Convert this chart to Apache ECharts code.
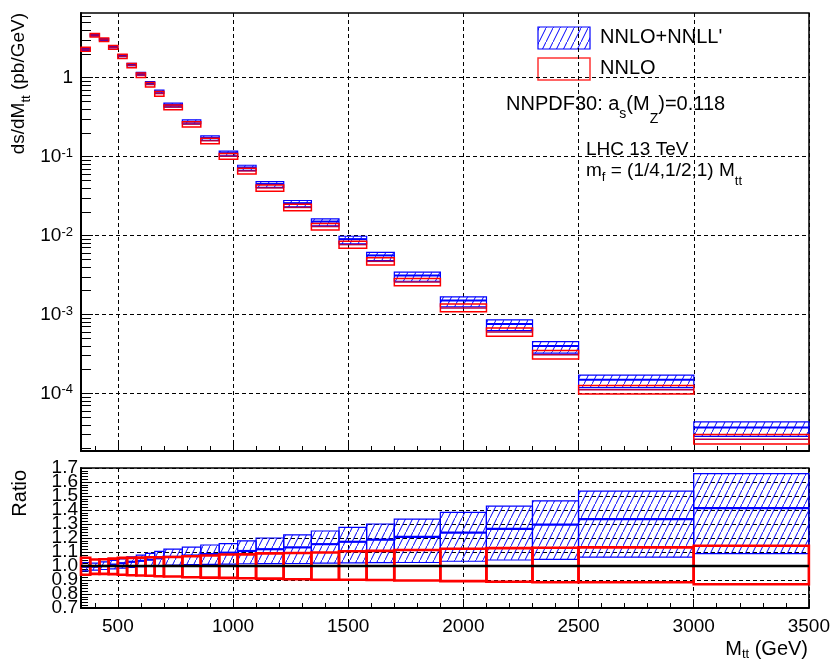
<!DOCTYPE html>
<html>
<head>
<meta charset="utf-8">
<script src="https://cdn.jsdelivr.net/npm/echarts@6/dist/echarts.min.js"></script>
<style>
  html, body { margin: 0; padding: 0; background: #fff; }
  #chart { width: 833px; height: 662px; }
</style>
</head>
<body>
<div id="chart"></div>
<script>
// Invariant-mass bins of the top-pair system (GeV)
const binEdges = [340, 380, 420, 460, 500, 540, 580, 620, 660, 700, 780, 860, 940, 1020, 1100,
                  1220, 1340, 1460, 1580, 1700, 1900, 2100, 2300, 2500, 3000, 3500];

// NNLO central differential cross section, pb/GeV
const nnloXsec = [2.30, 3.47, 3.04, 2.43, 1.87, 1.43, 1.08, 0.819, 0.629, 0.424, 0.258, 0.159, 0.101,
                  0.0658, 0.0401, 0.0227, 0.0130, 0.00767, 0.00471, 0.00257, 0.00121, 0.000597,
                  0.000308, 0.000111, 0.0000262];

// Scale bands and central values, normalised to the NNLO central value
const ratioResumUp = [1.025, 1.02, 1.03, 1.04, 1.05, 1.065, 1.078, 1.09, 1.105, 1.12, 1.135, 1.15, 1.16,
                      1.18, 1.20, 1.223, 1.25, 1.276, 1.30, 1.335, 1.383, 1.427, 1.465, 1.535, 1.66];
const ratioResumCentral = [0.995, 0.995, 1.0, 1.01, 1.02, 1.03, 1.037, 1.045, 1.055, 1.065, 1.075, 1.085, 1.095,
                           1.107, 1.12, 1.133, 1.156, 1.173, 1.188, 1.208, 1.239, 1.265, 1.295, 1.335, 1.414];
const ratioResumDown = [0.965, 0.97, 0.975, 0.98, 0.985, 0.99, 0.995, 1.0, 1.003, 1.006, 1.01, 1.012, 1.014,
                        1.016, 1.017, 1.018, 1.02, 1.022, 1.024, 1.025, 1.034, 1.043, 1.047, 1.063, 1.089];
const ratioNnloUp = [1.059, 1.046, 1.048, 1.053, 1.058, 1.058, 1.06, 1.062, 1.062, 1.064, 1.07, 1.075, 1.082,
                     1.083, 1.09, 1.093, 1.096, 1.105, 1.108, 1.114, 1.123, 1.128, 1.13, 1.133, 1.145];
const ratioNnloCentral = [1, 1, 1, 1, 1, 1, 1, 1, 1, 1, 1, 1, 1, 1, 1, 1, 1, 1, 1, 1, 1, 1, 1, 1, 1];
const ratioNnloDown = [0.937, 0.944, 0.944, 0.942, 0.937, 0.934, 0.932, 0.93, 0.927, 0.925, 0.92, 0.917, 0.915,
                       0.912, 0.91, 0.905, 0.902, 0.902, 0.90, 0.896, 0.892, 0.887, 0.884, 0.884, 0.87];

// Axis ticks and labels
const xMajorTicks = [500, 1000, 1500, 2000, 2500, 3000, 3500];
const xMinorTicks = [400, 600, 700, 800, 900, 1100, 1200, 1300, 1400, 1600, 1700, 1800, 1900,
                     2100, 2200, 2300, 2400, 2600, 2700, 2800, 2900, 3100, 3200, 3300, 3400];
const yLogMajorTicks = [1e-4, 1e-3, 1e-2, 1e-1, 1];
const yLogMinorTicks = [2e-5, 3e-5, 4e-5, 5e-5, 6e-5, 7e-5, 8e-5, 9e-5,
                        2e-4, 3e-4, 4e-4, 5e-4, 6e-4, 7e-4, 8e-4, 9e-4,
                        2e-3, 3e-3, 4e-3, 5e-3, 6e-3, 7e-3, 8e-3, 9e-3,
                        2e-2, 3e-2, 4e-2, 5e-2, 6e-2, 7e-2, 8e-2, 9e-2,
                        0.2, 0.3, 0.4, 0.5, 0.6, 0.7, 0.8, 0.9, 2, 3, 4, 5, 6];
const yLogRange = [1.86e-5, 6.6];
const ratioRange = [0.7, 1.7];
// the ratio labels are packed tightly; they are laid out on two interleaved axes
const ratioLabelsOdd = [0.7, 0.9, 1.1, 1.3, 1.5, 1.7];
const ratioLabelsEven = [0.8, 1.0, 1.2, 1.4, 1.6];

const FONT = '"Liberation Sans", Arial, Helvetica, sans-serif';
const BLUE = '#0000ff';
const RED = '#ff0000';

// Diagonal "///" hatch used for the resummed band
function makeHatch(step) {
  const c = document.createElement('canvas');
  c.width = step;
  c.height = step * 2;
  const g = c.getContext('2d');
  g.strokeStyle = BLUE;
  g.lineWidth = 1;
  g.beginPath();
  g.moveTo(-1, 2 * step + 2);
  g.lineTo(step + 1, -2);
  g.stroke();
  return { image: c, repeat: 'repeat' };
}
const hatchTop = makeHatch(8);
const hatchRatio = makeHatch(7);

// Per-bin boxes: [xLow, xHigh, yLow, yHigh, yCentral]
function bins(scale, lo, hi, mid) {
  return binEdges.slice(0, -1).map((x0, i) => [x0, binEdges[i + 1], scale[i] * lo[i], scale[i] * hi[i], scale[i] * mid[i]]);
}
const unit = nnloXsec.map(() => 1);
const resumAbs = bins(nnloXsec, ratioResumDown, ratioResumUp, ratioResumCentral);
const nnloAbs = bins(nnloXsec, ratioNnloDown, ratioNnloUp, ratioNnloCentral);
const resumRatio = bins(unit, ratioResumDown, ratioResumUp, ratioResumCentral);
const nnloRatio = bins(unit, ratioNnloDown, ratioNnloUp, ratioNnloCentral);

function boxRenderer(fill, stroke, lw, midColor, midWidth) {
  return function (params, api) {
    const tl = api.coord([api.value(0), api.value(3)]);
    const br = api.coord([api.value(1), api.value(2)]);
    const mid = api.coord([api.value(0), api.value(4)]);
    const children = [{
      type: 'rect',
      shape: { x: tl[0], y: tl[1], width: br[0] - tl[0], height: br[1] - tl[1] },
      style: { fill: fill, stroke: stroke, lineWidth: lw }
    }];
    if (midWidth > 0) {
      children.push({
        type: 'line',
        shape: { x1: tl[0], y1: mid[1], x2: br[0], y2: mid[1] },
        style: { stroke: midColor, lineWidth: midWidth }
      });
    }
    return { type: 'group', children: children };
  };
}

const dashed = { show: true, lineStyle: { color: '#000', width: 1, type: [4, 3] } };
const axisLineStyle = { show: true, onZero: false, lineStyle: { color: '#000', width: 2 } };

function xAxes(gridIndex, withLabels) {
  return [{
    gridIndex: gridIndex, type: 'value', position: 'bottom', min: binEdges[0], max: binEdges[binEdges.length - 1],
    axisLine: axisLineStyle,
    axisTick: { show: true, inside: true, length: 9, customValues: xMajorTicks, lineStyle: { color: '#000', width: 1 } },
    axisLabel: withLabels
      ? { show: true, customValues: xMajorTicks, margin: 9, fontSize: 19, fontFamily: FONT, color: '#000', formatter: v => String(v) }
      : { show: false, customValues: xMajorTicks },
    splitLine: dashed
  }, {
    gridIndex: gridIndex, type: 'value', position: 'bottom', min: binEdges[0], max: binEdges[binEdges.length - 1],
    axisLine: { show: false },
    axisTick: { show: true, inside: true, length: 5, customValues: xMinorTicks, lineStyle: { color: '#000', width: 1 } },
    axisLabel: { show: false },
    splitLine: { show: false }
  }];
}

function logLabel(v) {
  const e = Math.round(Math.log10(v));
  return e === 0 ? '{b|1}' : '{b|10}{s|' + e + '}';
}

const ratioLabelStyle = {
  show: true, margin: 3, fontSize: 19, fontFamily: FONT, color: '#000',
  showMinLabel: true, showMaxLabel: true, hideOverlap: false, formatter: v => v.toFixed(1)
};

// rich-text pieces: base glyphs top-aligned, subscripts pushed down by top padding
function sub(size, drop) {
  return { fontSize: size, fontFamily: FONT, lineHeight: size + 1, fill: '#000', verticalAlign: 'top', padding: [drop, 0, 0, 0] };
}
function base(size) {
  return { fontSize: size, fontFamily: FONT, lineHeight: 22, fill: '#000', verticalAlign: 'top' };
}

const chart = echarts.init(document.getElementById('chart'), null, { renderer: 'canvas' });
chart.setOption({
  animation: false,
  backgroundColor: '#fff',
  textStyle: { fontFamily: FONT },
  grid: [
    { left: 81, right: 24, top: 13, height: 438, show: true, borderColor: '#000', borderWidth: 1.5, containLabel: false },
    { left: 81, right: 24, top: 468, height: 140, show: true, borderColor: '#000', borderWidth: 1.5, containLabel: false }
  ],
  xAxis: xAxes(0, false).concat(xAxes(1, true)),
  yAxis: [{
    gridIndex: 0, type: 'log', logBase: 10, position: 'left', min: yLogRange[0], max: yLogRange[1],
    axisLine: axisLineStyle,
    axisTick: { show: true, inside: true, length: 12, customValues: yLogMajorTicks, lineStyle: { color: '#000', width: 1 } },
    axisLabel: {
      show: true, customValues: yLogMajorTicks, margin: 8, formatter: logLabel, color: '#000',
      rich: {
        b: { fontSize: 19, fontFamily: FONT, lineHeight: 20, color: '#000', verticalAlign: 'bottom' },
        s: { fontSize: 13, fontFamily: FONT, lineHeight: 8, color: '#000', verticalAlign: 'top' }
      }
    },
    splitLine: dashed
  }, {
    gridIndex: 0, type: 'log', logBase: 10, position: 'left', min: yLogRange[0], max: yLogRange[1],
    axisLine: { show: false },
    axisTick: { show: true, inside: true, length: 10, customValues: yLogMinorTicks, lineStyle: { color: '#000', width: 1 } },
    axisLabel: { show: false },
    splitLine: { show: false }
  }, {
    gridIndex: 1, type: 'value', position: 'left', min: ratioRange[0], max: ratioRange[1], interval: 0.1,
    axisLine: axisLineStyle,
    axisTick: { show: true, inside: true, length: 11, lineStyle: { color: '#000', width: 1 } },
    minorTick: { show: true, splitNumber: 5, length: 7, lineStyle: { color: '#000', width: 1 } },
    axisLabel: Object.assign({ customValues: ratioLabelsOdd }, ratioLabelStyle),
    splitLine: dashed
  }, {
    gridIndex: 1, type: 'value', position: 'left', min: ratioRange[0], max: ratioRange[1], interval: 0.1,
    axisLine: { show: false },
    axisTick: { show: false },
    axisLabel: Object.assign({ customValues: ratioLabelsEven }, ratioLabelStyle),
    splitLine: { show: false }
  }],
  series: [
    {
      name: "NNLO+NNLL'", type: 'custom', xAxisIndex: 0, yAxisIndex: 0,
      renderItem: boxRenderer(hatchTop, BLUE, 1.2, BLUE, 2),
      encode: { x: [0, 1], y: [2, 3, 4] }, data: resumAbs
    },
    {
      name: 'NNLO', type: 'custom', xAxisIndex: 0, yAxisIndex: 0,
      renderItem: boxRenderer('rgba(0,0,0,0)', RED, 1.5, '#b0004a', 1.5),
      encode: { x: [0, 1], y: [2, 3, 4] }, data: nnloAbs
    },
    {
      name: "NNLO+NNLL' ratio", type: 'custom', xAxisIndex: 2, yAxisIndex: 2,
      renderItem: boxRenderer(hatchRatio, BLUE, 1.2, BLUE, 2.2),
      encode: { x: [0, 1], y: [2, 3, 4] }, data: resumRatio
    },
    {
      name: 'NNLO ratio', type: 'custom', xAxisIndex: 2, yAxisIndex: 2,
      renderItem: boxRenderer('rgba(0,0,0,0)', RED, 2.6, RED, 0),
      encode: { x: [0, 1], y: [2, 3, 4] }, data: nnloRatio
    },
    {
      name: 'unity', type: 'line', xAxisIndex: 2, yAxisIndex: 2, symbol: 'none', silent: true,
      lineStyle: { color: '#000', width: 2.5 },
      data: [[binEdges[0], 1], [binEdges[binEdges.length - 1], 1]]
    }
  ],
  graphic: [
    // legend
    { type: 'rect', shape: { x: 538, y: 27, width: 52, height: 22 }, style: { fill: hatchRatio, stroke: BLUE, lineWidth: 1.2 } },
    { type: 'rect', shape: { x: 538, y: 58, width: 52, height: 22 }, style: { fill: 'rgba(0,0,0,0)', stroke: '#ff3333', lineWidth: 1.5 } },
    { type: 'text', x: 600, y: 37, style: { text: "NNLO+NNLL'", fontSize: 20, fontFamily: FONT, fill: '#000', textAlign: 'left', textVerticalAlign: 'middle' } },
    { type: 'text', x: 600, y: 68, style: { text: 'NNLO', fontSize: 20, fontFamily: FONT, fill: '#000', textAlign: 'left', textVerticalAlign: 'middle' } },
    // annotations
    {
      type: 'text', x: 506, y: 94.5,
      style: {
        text: '{b|NNPDF30: a}{s|s}{b|(M}{z|Z}{b|)=0.118}', textAlign: 'left', textVerticalAlign: 'top',
        rich: { b: base(20), s: sub(14, 13), z: sub(14, 18) }
      }
    },
    { type: 'text', x: 586, y: 150, style: { text: 'LHC 13 TeV', fontSize: 19, fontFamily: FONT, fill: '#000', textAlign: 'left', textVerticalAlign: 'middle' } },
    {
      type: 'text', x: 586, y: 161.5,
      style: {
        text: '{b|m}{f|f}{b| = (1/4,1/2,1) M}{t|tt}', textAlign: 'left', textVerticalAlign: 'top',
        rich: { b: base(19), f: sub(13, 9), t: sub(13, 13) }
      }
    },
    // axis titles
    {
      type: 'text', x: 9, y: 13, rotation: Math.PI / 2,
      style: {
        text: '{b|ds/dM}{t|tt}{b| (pb/GeV)}', textAlign: 'right', textVerticalAlign: 'top',
        rich: { b: base(19), t: sub(13, 11) }
      }
    },
    { type: 'text', x: 20, y: 470, rotation: Math.PI / 2, style: { text: 'Ratio', fontSize: 20, fontFamily: FONT, fill: '#000', textAlign: 'right', textVerticalAlign: 'middle' } },
    {
      type: 'text', x: 808, y: 639,
      style: {
        text: '{b|M}{t|tt}{b| (GeV)}', textAlign: 'right', textVerticalAlign: 'top',
        rich: { b: base(20), t: sub(13, 9) }
      }
    }
  ]
});
</script>
</body>
</html>
